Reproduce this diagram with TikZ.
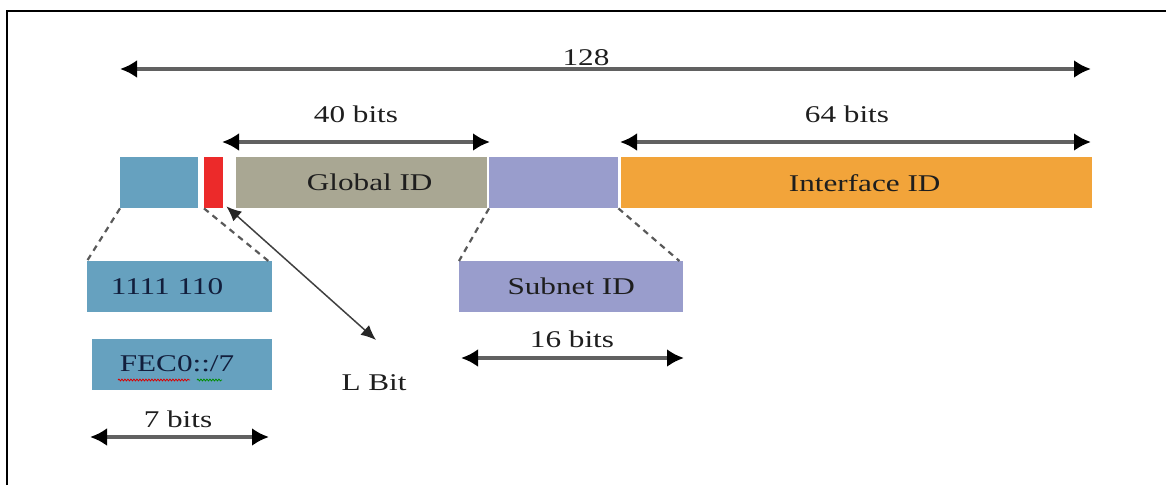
\documentclass[tikz,border=0pt]{standalone}
\usepackage{fontspec}
\setmainfont{Liberation Serif}[FakeStretch=1.3]
\usetikzlibrary{arrows.meta,decorations.pathmorphing}

\definecolor{prefixblue}{RGB}{102,161,191}
\definecolor{lbitred}{RGB}{236,42,42}
\definecolor{globalgray}{RGB}{169,167,147}
\definecolor{subnetblue}{RGB}{153,157,204}
\definecolor{ifaceorange}{RGB}{242,164,58}
\definecolor{inkgray}{RGB}{30,30,30}
\definecolor{inknavy}{RGB}{18,30,60}

\tikzset{
  field/.style={draw=none, inner sep=0pt, anchor=north west},
  lbl/.style={text=inkgray, font=\fontsize{24}{28}\selectfont, inner sep=0pt},
  span/.style={draw=black!62, line width=3.6pt,
    {Latex[length=17pt,width=18pt,black]}-{Latex[length=17pt,width=18pt,black]}},
  zoomline/.style={draw=black!65, line width=2.2pt, dash pattern=on 6pt off 5pt},
  pointer/.style={draw=black!75, line width=1.5pt,
    {Latex[length=15pt,width=13pt,black!85]}-{Latex[length=15pt,width=13pt,black!85]}},
  squiggle/.style={line width=0.8pt, decorate,
    decoration={snake, amplitude=0.9pt, segment length=3pt}}
}

\begin{document}
\begin{tikzpicture}[x=1pt, y=-1pt]
  \useasboundingbox (0,0) rectangle (1166,485);

  % frame
  \draw[line width=2.6pt] (7,485) -- (7,11) -- (1166,11);

  % address fields
  \node[field, fill=prefixblue, minimum width=78pt, minimum height=51pt] (pfx) at (120,157) {};
  \node[field, fill=lbitred, minimum width=19pt, minimum height=51pt] (lbit) at (204,157) {};
  \node[field, fill=globalgray, minimum width=251pt, minimum height=51pt] (gid) at (236,157) {};
  \node[field, fill=subnetblue, minimum width=129pt, minimum height=51pt] (sid) at (489,157) {};
  \node[field, fill=ifaceorange, minimum width=471pt, minimum height=51pt] (iid) at (621,157) {};
  \node[lbl] (gidt) at ([xshift=8pt]gid.center) {Global ID};
  \node[lbl] (iidt) at ([xshift=8pt]iid.center) {Interface ID};

  % expanded fields
  \node[field, fill=prefixblue, minimum width=185pt, minimum height=51pt] (bin) at (87,261) {};
  \node[lbl, text=inknavy] (bint) at (167,287) {1111 110};
  \node[field, fill=prefixblue, minimum width=180pt, minimum height=51pt] (fec) at (92,339) {};
  \node[lbl, text=inknavy] (fect) at (177,364) {FEC0::/7};
  \node[field, fill=subnetblue, minimum width=224pt, minimum height=51pt] (sbox) at (459,261) {};
  \node[lbl] (sboxt) at (sbox.center) {Subnet ID};

  % spell-check marks under the prefix text
  \draw[squiggle, red!85!black] (118,380) -- (190,380);
  \draw[squiggle, green!55!black] (197,380) -- (222,380);

  % zoom guides
  \draw[zoomline] (pfx.south west) -- (bin.north west);
  \draw[zoomline] (lbit.south west) -- ([xshift=-4pt]bin.north east);
  \draw[zoomline] (sid.south west) -- (sbox.north west);
  \draw[zoomline] (sid.south east) -- ([xshift=-4pt]sbox.north east);

  % L bit pointer
  \node[lbl] (lbitt) at (374,383) {L Bit};
  \coordinate (ptail) at (376,340);
  \draw[pointer] ([xshift=3pt,yshift=2pt]lbit.south east) -- (ptail);

  % bit-length spans
  \coordinate (s128l) at (120,69);  \coordinate (s128r) at (1091,69);
  \draw[span] (s128l) -- (s128r);
  \node[lbl] (t128) at (586,58) {128};

  \coordinate (s40l) at (222,142);  \coordinate (s40r) at (490,142);
  \draw[span] (s40l) -- (s40r);
  \node[lbl] (t40) at (356,114) {40 bits};

  \coordinate (s64l) at (620,142);  \coordinate (s64r) at (1091,142);
  \draw[span] (s64l) -- (s64r);
  \node[lbl] (t64) at (847,114) {64 bits};

  \coordinate (s16l) at (461,358);  \coordinate (s16r) at (684,358);
  \draw[span] (s16l) -- (s16r);
  \node[lbl] (t16) at (572,339) {16 bits};

  \coordinate (s7l) at (90,437);  \coordinate (s7r) at (269,437);
  \draw[span] (s7l) -- (s7r);
  \node[lbl] (t7) at (178,419) {7 bits};
\end{tikzpicture}
\end{document}
